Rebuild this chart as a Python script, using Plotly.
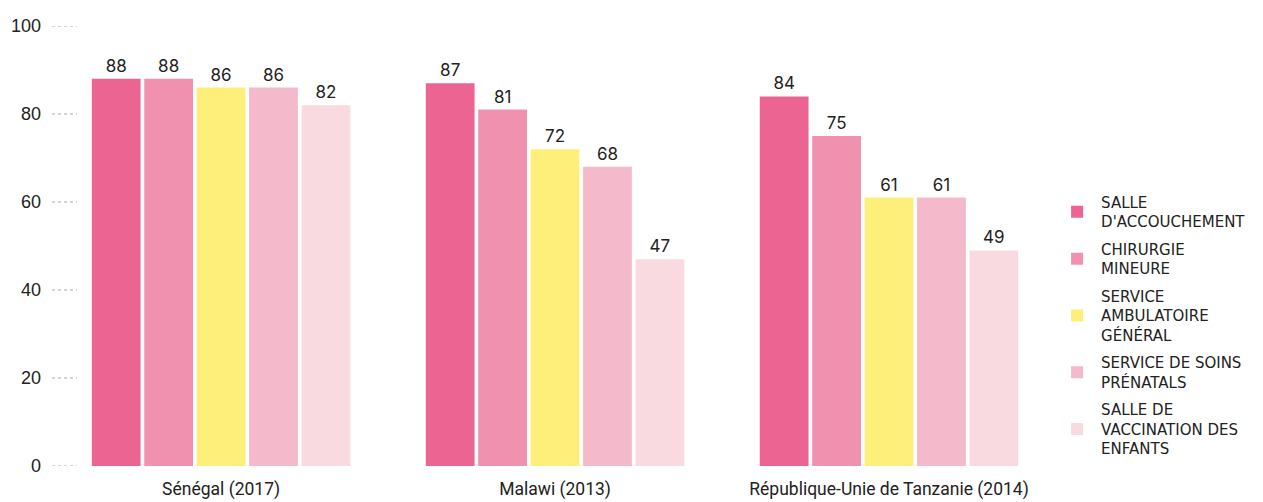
import plotly.graph_objects as go

# Pays / année d'enquête
pays = ["Sénégal (2017)", "Malawi (2013)", "République-Unie de Tanzanie (2014)"]

# Séries (pourcentages)
salle_accouchement = [88, 87, 84]
chirurgie_mineure = [88, 81, 75]
service_ambulatoire = [86, 72, 61]
soins_prenatals = [86, 68, 61]
vaccination_enfants = [82, 47, 49]

noms_series = [
    "SALLE<br>D'ACCOUCHEMENT",
    "CHIRURGIE<br>MINEURE",
    "SERVICE<br>AMBULATOIRE<br>GÉNÉRAL",
    "SERVICE DE SOINS<br>PRÉNATALS",
    "SALLE DE<br>VACCINATION DES<br>ENFANTS",
]
valeurs = [salle_accouchement, chirurgie_mineure, service_ambulatoire,
           soins_prenatals, vaccination_enfants]
couleurs = ["#EC6492", "#F092AF", "#FEEF7A", "#F5B9CC", "#FADAE1"]

y_ticks = [0, 20, 40, 60, 80, 100]

fig = go.Figure()
for i, (nom, vals, c) in enumerate(zip(noms_series, valeurs, couleurs)):
    fig.add_trace(go.Bar(
        x=pays, y=vals, name=nom, legendgroup=f"g{i}",
        marker=dict(color=c, line=dict(width=0)),
        text=[str(v) for v in vals],
        textposition="outside",
        textfont=dict(family="Inter, Lato, sans-serif", size=17, color="#222222"),
        cliponaxis=False,
    ))

# Petits traits pointillés à gauche de chaque graduation
for t in y_ticks:
    fig.add_shape(type="line", xref="paper", yref="y",
                  x0=-0.0286, x1=-0.003, y0=t, y1=t,
                  line=dict(color="#AAAAAA", width=1, dash="dot"))

fig.update_layout(
    width=1263, height=502,
    margin=dict(l=80, r=203, t=26, b=36),
    paper_bgcolor="white", plot_bgcolor="white",
    barmode="group", bargap=0.215, bargroupgap=0.07,
    showlegend=True,
    legend=dict(
        x=0.996, xanchor="left", y=0.32, yanchor="middle",
        font=dict(family="DejaVu Sans", size=15, color="#222222"),
        tracegroupgap=5, itemwidth=38,
    ),
    xaxis=dict(
        range=[-0.4224, 2.503], automargin=False,
        showgrid=False, zeroline=False, showline=False, ticks="",
        tickfont=dict(family="Roboto, sans-serif", size=17.5, color="#222222"),
        ticklabelstandoff=10,
    ),
    yaxis=dict(
        range=[0, 100], tickvals=y_ticks, automargin=False,
        showgrid=False, zeroline=False, showline=False, ticks="",
        tickfont=dict(family="Liberation Sans, Arial, sans-serif", size=18, color="#222222"),
        ticklabelstandoff=38,
    ),
)

fig.write_html("out.html")
